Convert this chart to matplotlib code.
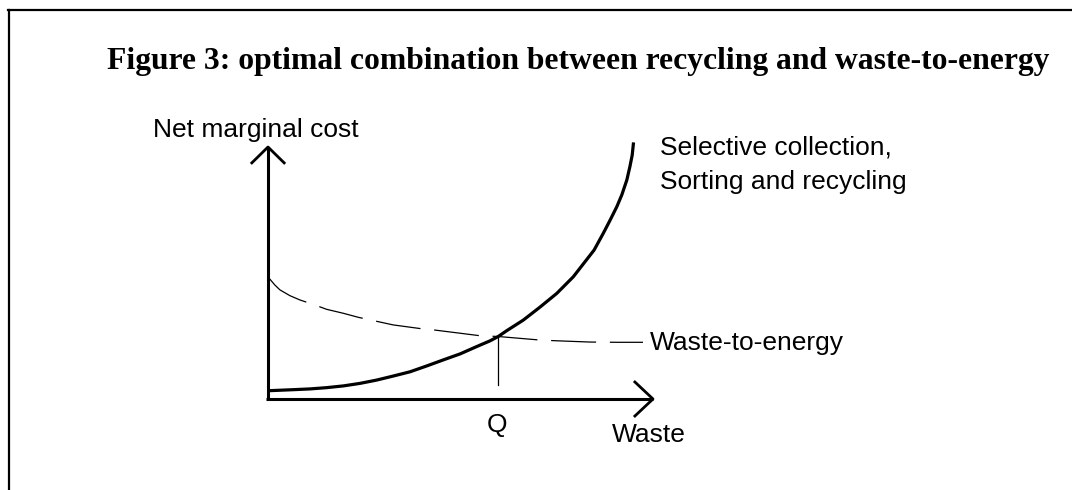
import matplotlib.pyplot as plt
from matplotlib.lines import Line2D

# Werte (Achsen 0..100 = Pfeillänge)
recycling_x = [0.3, 6.6, 10.9, 15.2, 19.6, 23.9, 28.2, 32.5, 36.9, 41.2, 45.5, 49.9, 54.2, 57.7,
               59.8, 62.0, 66.3, 70.6, 75.0, 79.3, 82.0, 84.7, 87.1, 88.8, 90.6, 91.9, 93.2,
               94.0, 94.6, 94.9]
recycling_y = [3.3, 3.7, 4.0, 4.5, 5.2, 6.2, 7.5, 9.1, 10.8, 13.1, 15.5, 17.9, 20.8, 23.1,
               24.8, 27.1, 31.3, 36.4, 41.9, 48.5, 53.8, 59.1, 65.8, 70.8, 76.3, 81.0, 86.9,
               92.2, 96.8, 101.2]

energy_x = [0.3, 1.8, 3.1, 5.7, 8.3, 12.2, 15.2, 19.6, 23.5, 27.4, 32.5, 39.3, 43.1, 49.9,
            55.1, 59.8, 70.6, 75.0, 83.6, 90.9, 97.4]
energy_y = [47.9, 45.2, 43.3, 41.0, 39.3, 37.3, 35.6, 34.0, 32.4, 31.1, 29.4, 28.0, 27.4, 26.1,
            25.1, 24.8, 23.4, 23.1, 22.6, 22.5, 22.5]

q_value = 59.8
q_level = 24.8

title = 'Figure 3: optimal combination between recycling and waste-to-energy'

fig = plt.figure(figsize=(10.72, 4.9), dpi=100)
# Achse so legen, dass der Ursprung bei Pixel (268, 399) liegt
ax = fig.add_axes([0, 0, 1, 1])
ax.set_xlim(-268 / 3.85, (1072 - 268) / 3.85)
ax.set_ylim(-(490 - 399) / 2.52, 399 / 2.52)
ax.axis('off')

# Rahmen (oben und links)
fig.add_artist(Line2D([8 / 1072, 1.0], [1 - 10 / 490, 1 - 10 / 490], color='black', lw=1.6))
fig.add_artist(Line2D([8.5 / 1072, 8.5 / 1072], [0, 1 - 10 / 490], color='black', lw=1.6))

fig.text(578 / 1072, 1 - 61 / 490, title, ha='center', va='center',
         fontsize=22.8, fontweight='bold', family='Liberation Serif')

# Achsen mit offenen Pfeilspitzen
ax.plot([-0.5, 100], [0, 0], color='black', lw=2.2, solid_capstyle='butt')
ax.plot([0, 0], [-0.5, 100], color='black', lw=2.2, solid_capstyle='butt')
ax.plot([95.3, 100, 95.3], [6.75, 0, -6.75], color='black', lw=2.0)
ax.plot([-4.2, 0, 4.2], [93.7, 100, 93.7], color='black', lw=2.0)

# Kurven
ax.plot(recycling_x, recycling_y, color='black', lw=2.3, solid_joinstyle='round')
ax.plot(energy_x, energy_y, color='black', lw=0.9, dashes=(36, 11))
ax.plot([q_value, q_value], [q_level, 5.6], color='black', lw=0.9)

txt = dict(fontsize=19, family='Liberation Sans', va='center')
ax.text(-29.9, 106.7, 'Net marginal cost', ha='left', **txt)
ax.text(101.8, 100, 'Selective collection,', ha='left', **txt)
ax.text(101.8, 86.1, 'Sorting and recycling', ha='left', **txt)
ax.text(99.2, 22.2, 'Waste-to-energy', ha='left', **txt)
ax.text(59.5, -10.3, 'Q', ha='center', **txt)
ax.text(89.4, -14.3, 'Waste', ha='left', **txt)

fig.savefig('out.png', dpi=100)
